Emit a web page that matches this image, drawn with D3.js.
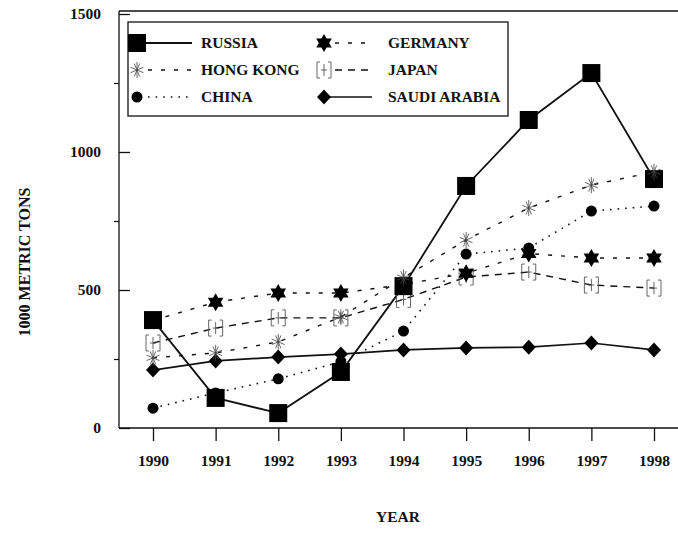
<!DOCTYPE html>
<html><head><meta charset="utf-8">
<script src="https://cdn.jsdelivr.net/npm/d3@7"></script>
<style>
html,body{margin:0;padding:0;background:#fff;}
svg text{font-family:"Liberation Serif","Times New Roman",serif;font-weight:bold;fill:#111;}
</style></head>
<body><svg id="c" width="678" height="534"></svg>
<script>
const years = [1990,1991,1992,1993,1994,1995,1996,1997,1998];
const russia  = [391,109,54,203,514,877,1116,1286,902];
const germany = [390,456,489,489,520,561,632,616,616];
const hongKong= [254,272,312,402,545,681,797,880,928];
const japan   = [308,362,399,399,466,547,565,518,507];
const china   = [72,127,178,240,351,630,652,786,804];
const saudi   = [210,243,257,268,283,290,293,308,283];
const yTicks = [0,500,1000,1500];
const yMinor = [250,750,1250];

const svg = d3.select("#c");
const x = d3.scaleLinear().domain([1990,1998]).range([153,654]);
const y = d3.scaleLinear().domain([0,1500]).range([428,14]);
const X0 = 119, XR = 678;

// frame
const frame = svg.append("g").attr("stroke","#111").attr("stroke-width",1.3).attr("fill","none");
frame.append("line").attr("x1",X0).attr("x2",X0).attr("y1",y(1500)-3).attr("y2",y(0));
frame.append("line").attr("x1",X0).attr("x2",XR).attr("y1",y(1500)-3).attr("y2",y(1500)-3);
frame.append("line").attr("x1",X0).attr("x2",XR).attr("y1",y(0)).attr("y2",y(0));

// x axis
const gx = svg.append("g").attr("transform",`translate(0,${y(0)})`)
  .call(d3.axisBottom(x).tickValues(years).tickFormat(d3.format("d")).tickSize(13).tickPadding(14));
gx.select(".domain").remove();
gx.selectAll("line").attr("stroke","#111").attr("stroke-width",1.3);
gx.selectAll("text").attr("font-size",15.5).style("font-family","Liberation Serif").style("font-weight","bold");

// y axis
const gy = svg.append("g").attr("transform",`translate(${X0},0)`)
  .call(d3.axisLeft(y).tickValues(yTicks).tickFormat(d3.format("d")).tickSizeInner(-11).tickSizeOuter(0));
gy.select(".domain").remove();
gy.selectAll("line").attr("stroke","#111").attr("stroke-width",1.3);
gy.selectAll("text").attr("x",-18).attr("font-size",15.5).style("font-family","Liberation Serif").style("font-weight","bold");
const gym = svg.append("g").attr("transform",`translate(${X0},0)`)
  .call(d3.axisLeft(y).tickValues(yMinor).tickFormat("").tickSize(5));
gym.select(".domain").remove();
gym.selectAll("line").attr("stroke","#111").attr("stroke-width",1.2);

// titles
svg.append("text").attr("transform","translate(26,262) rotate(-90)").attr("text-anchor","middle")
  .attr("dominant-baseline","middle").attr("font-size",16).text("1000 METRIC TONS");
svg.append("text").attr("x",398).attr("y",522).attr("text-anchor","middle").attr("font-size",15.5).text("YEAR");

// markers
function drawMarker(g, type){
  if(type==="square"){
    g.append("rect").attr("x",-9).attr("y",-9).attr("width",18).attr("height",18).attr("fill","#000");
  } else if(type==="star"){
    const r=9;
    const tri=(off)=>d3.range(3).map(i=>{const a=off+i*2*Math.PI/3;return [r*Math.sin(a),-r*Math.cos(a)];});
    g.append("path").attr("d","M"+tri(0).join("L")+"Z"+"M"+tri(Math.PI).join("L")+"Z").attr("fill","#000");
  } else if(type==="asterisk"){
    const p=d3.range(8).map(i=>{const a=i*Math.PI/4+Math.PI/8;return `M0,0L${7*Math.cos(a)},${7*Math.sin(a)}`;}).join("");
    g.append("path").attr("d",p+"M0,-8L0,8").attr("stroke","#444").attr("stroke-width",0.8).attr("fill","none");
  } else if(type==="bracket"){
    g.append("path").attr("d","M-4,-8L-7,-8L-7,8L-4,8M4,-8L7,-8L7,8L4,8M-3,0L3,0M0,-6L0,6")
      .attr("stroke","#555").attr("stroke-width",0.9).attr("fill","none");
  } else if(type==="circle"){
    g.append("circle").attr("r",5.5).attr("fill","#000");
  } else if(type==="diamond"){
    g.append("path").attr("d","M0,-7.5L7,0L0,7.5L-7,0Z").attr("fill","#000");
  }
}

const series = [
  {name:"SAUDI ARABIA", vals:saudi, marker:"diamond", dash:null, w:1.7},
  {name:"CHINA", vals:china, marker:"circle", dash:"1.6,6", w:1.6},
  {name:"JAPAN", vals:japan, marker:"bracket", dash:"7,6", w:1.4},
  {name:"GERMANY", vals:germany, marker:"star", dash:"4,9", w:1.4},
  {name:"RUSSIA", vals:russia, marker:"square", dash:null, w:1.8},
  {name:"HONG KONG", vals:hongKong, marker:"asterisk", dash:"4,9", w:1.4}
];
const line = d3.line().x((d,i)=>x(years[i])).y(d=>y(d));
series.forEach(s=>{
  svg.append("path").datum(s.vals).attr("d",line).attr("fill","none").attr("stroke","#111")
    .attr("stroke-width",s.w).attr("stroke-dasharray",s.dash);
});
series.forEach(s=>{
  s.vals.forEach((v,i)=>{
    const g=svg.append("g").attr("transform",`translate(${x(years[i])},${y(v)})`);
    drawMarker(g,s.marker);
  });
});

// legend
const lg = svg.append("g");
lg.append("rect").attr("x",128).attr("y",22).attr("width",380).attr("height",94)
  .attr("fill","#fff").attr("stroke","#111").attr("stroke-width",1.3);
const byName = Object.fromEntries(series.map(s=>[s.name,s]));
const legendItems = [
  ["RUSSIA",0,0],["HONG KONG",0,1],["CHINA",0,2],
  ["GERMANY",1,0],["JAPAN",1,1],["SAUDI ARABIA",1,2]
];
const colX=[137,324], colEnd=[192,372], colText=[201,388], rowY=[43,70,97];
legendItems.forEach(([n,c,r])=>{
  const s=byName[n];
  lg.append("line").attr("x1",colX[c]+(s.dash?11:0)).attr("x2",colEnd[c]).attr("y1",rowY[r]).attr("y2",rowY[r])
    .attr("stroke","#111").attr("stroke-width",s.w).attr("stroke-dasharray",s.dash);
  const g=lg.append("g").attr("transform",`translate(${colX[c]},${rowY[r]})`);
  drawMarker(g,s.marker);
  lg.append("text").attr("x",colText[c]).attr("y",rowY[r]+1).attr("dominant-baseline","middle")
    .attr("font-size",15.5).text(n);
});
</script></body></html>
